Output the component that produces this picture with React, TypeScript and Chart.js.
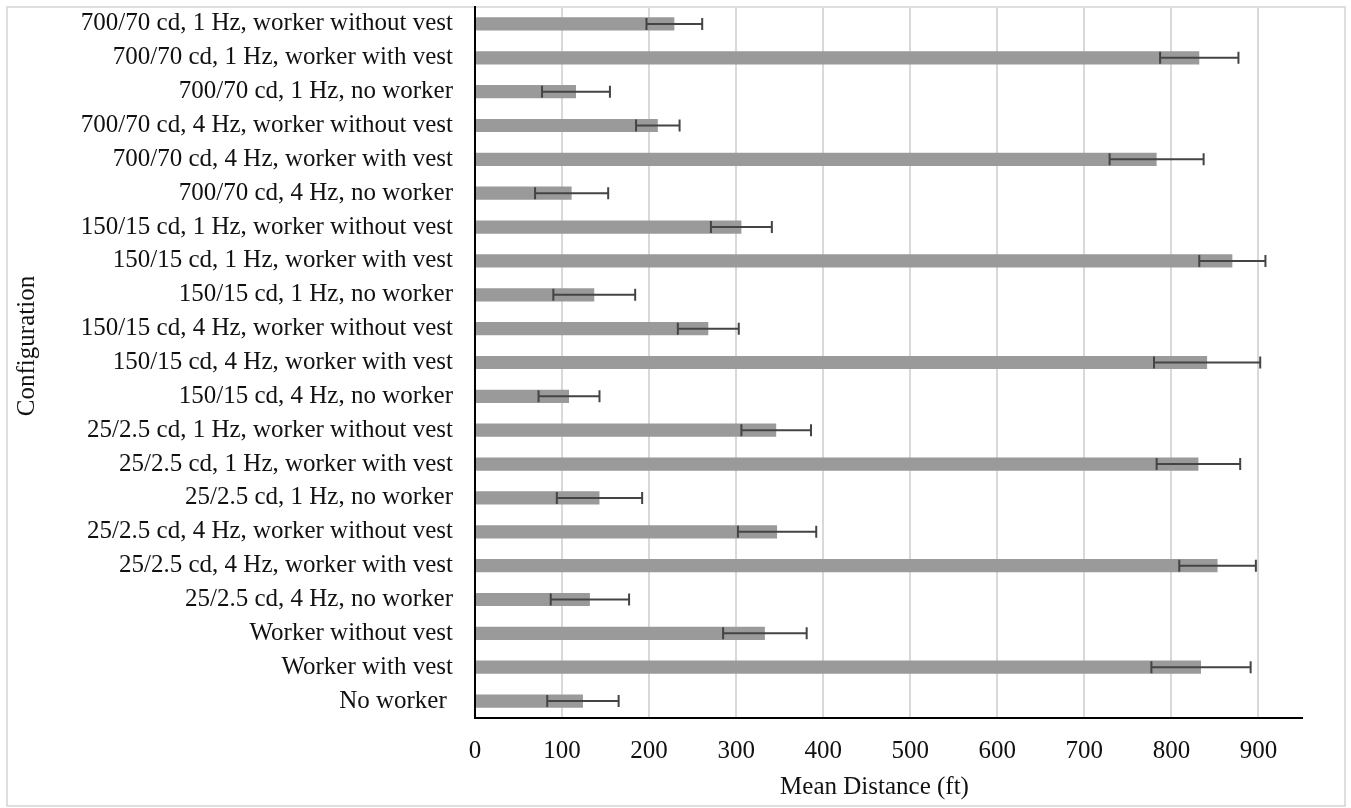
import React, { useEffect, useRef } from "react";
import { Chart, registerables } from "chart.js";

Chart.register(...registerables);

const categories: string[] = [
  "700/70 cd, 1 Hz, worker without vest",
  "700/70 cd, 1 Hz, worker with vest",
  "700/70 cd, 1 Hz, no worker",
  "700/70 cd, 4 Hz, worker without vest",
  "700/70 cd, 4 Hz, worker with vest",
  "700/70 cd, 4 Hz, no worker",
  "150/15 cd, 1 Hz, worker without vest",
  "150/15 cd, 1 Hz, worker with vest",
  "150/15 cd, 1 Hz, no worker",
  "150/15 cd, 4 Hz, worker without vest",
  "150/15 cd, 4 Hz, worker with vest",
  "150/15 cd, 4 Hz, no worker",
  "25/2.5 cd, 1 Hz, worker without vest",
  "25/2.5 cd, 1 Hz, worker with vest",
  "25/2.5 cd, 1 Hz, no worker",
  "25/2.5 cd, 4 Hz, worker without vest",
  "25/2.5 cd, 4 Hz, worker with vest",
  "25/2.5 cd, 4 Hz, no worker",
  "Worker without vest",
  "Worker with vest",
  "No worker ",
];

const meanDistance: number[] = [
  229, 832, 116, 210, 783, 111, 306, 870, 137, 268, 841, 108, 346, 831, 143,
  347, 853, 132, 333, 834, 124,
];

const errorAmount: number[] = [
  32, 45, 39, 25, 54, 42, 35, 38, 47, 35, 61, 35, 40, 48, 49, 45, 44, 45, 48,
  57, 41,
];

const xTickValues: number[] = [0, 100, 200, 300, 400, 500, 600, 700, 800, 900];
const xMax = 950;

const xTitle = "Mean Distance (ft)";
const yTitle = "Configuration";

const FONT = "'Liberation Serif', 'Times New Roman', serif";

export default function App() {
  const canvasRef = useRef<HTMLCanvasElement | null>(null);

  useEffect(() => {
    const canvas = canvasRef.current;
    if (!canvas) return;

    const framePlugin = {
      id: "frame",
      beforeDraw(chart: any) {
        const { ctx, width, height } = chart;
        ctx.save();
        ctx.fillStyle = "#ffffff";
        ctx.fillRect(0, 0, width, height);
        ctx.strokeStyle = "#d4d4d4";
        ctx.lineWidth = 1.5;
        ctx.strokeRect(7, 7, 1338, 799);
        ctx.restore();
      },
      afterDraw(chart: any) {
        const { ctx, chartArea } = chart;
        ctx.save();
        ctx.fillStyle = "#111111";
        ctx.font = `25px ${FONT}`;
        ctx.textAlign = "center";
        ctx.textBaseline = "middle";
        ctx.fillText(xTitle, (chartArea.left + chartArea.right) / 2 - 14, 787);
        ctx.translate(27, 346);
        ctx.rotate(-Math.PI / 2);
        ctx.fillText(yTitle, 0, 0);
        ctx.restore();
      },
    };

    const errorBarPlugin = {
      id: "errorBars",
      afterDatasetsDraw(chart: any) {
        const { ctx } = chart;
        const xs = chart.scales.x;
        const ys = chart.scales.y;
        ctx.save();
        ctx.strokeStyle = "#444444";
        ctx.lineWidth = 2;
        meanDistance.forEach((m, i) => {
          const yc = ys.getPixelForValue(i);
          const x1 = xs.getPixelForValue(m - errorAmount[i]);
          const x2 = xs.getPixelForValue(m + errorAmount[i]);
          ctx.beginPath();
          ctx.moveTo(x1, yc);
          ctx.lineTo(x2, yc);
          ctx.moveTo(x1, yc - 6);
          ctx.lineTo(x1, yc + 6);
          ctx.moveTo(x2, yc - 6);
          ctx.lineTo(x2, yc + 6);
          ctx.stroke();
        });
        ctx.restore();
      },
    };

    const chart = new Chart(canvas, {
      type: "bar",
      data: {
        labels: categories,
        datasets: [
          {
            label: "Mean Distance",
            data: meanDistance,
            backgroundColor: "#9a9a9a",
            borderWidth: 0,
            categoryPercentage: 1,
            barPercentage: 0.39,
          },
        ],
      },
      options: {
        indexAxis: "y",
        animation: false,
        responsive: false,
        events: [],
        layout: { padding: { left: 0, right: 49, top: 7, bottom: 0 } },
        plugins: {
          legend: { display: false },
          tooltip: { enabled: false },
          title: { display: false },
        },
        scales: {
          x: {
            type: "linear",
            min: 0,
            max: xMax,
            afterBuildTicks: (scale: any) => {
              scale.ticks = xTickValues.map((v) => ({ value: v }));
            },
            afterFit: (scale: any) => {
              scale.height = 90;
              scale.paddingLeft = 0;
              scale.paddingRight = 0;
            },
            grid: {
              color: "#d9d9d9",
              lineWidth: 2,
              drawTicks: false,
            },
            border: { display: true, color: "#000000", width: 2 },
            ticks: {
              padding: 18,
              color: "#111111",
              font: { family: FONT, size: 25 },
            },
          },
          y: {
            type: "category",
            afterFit: (scale: any) => {
              scale.width = 475;
              scale.paddingTop = 0;
              scale.paddingBottom = 0;
            },
            grid: { display: false, drawTicks: false },
            border: { display: true, color: "#000000", width: 2 },
            ticks: {
              padding: 22,
              color: "#111111",
              autoSkip: false,
              font: { family: FONT, size: 25 },
            },
          },
        },
      },
      plugins: [framePlugin, errorBarPlugin],
    });

    return () => {
      chart.destroy();
    };
  }, []);

  return (
    <div
      style={{
        position: "fixed",
        left: 0,
        top: 0,
        width: 1351,
        height: 808,
        background: "#ffffff",
      }}
    >
      <canvas
        ref={canvasRef}
        width={1351}
        height={808}
        style={{ display: "block", width: 1351, height: 808 }}
      />
    </div>
  );
}
